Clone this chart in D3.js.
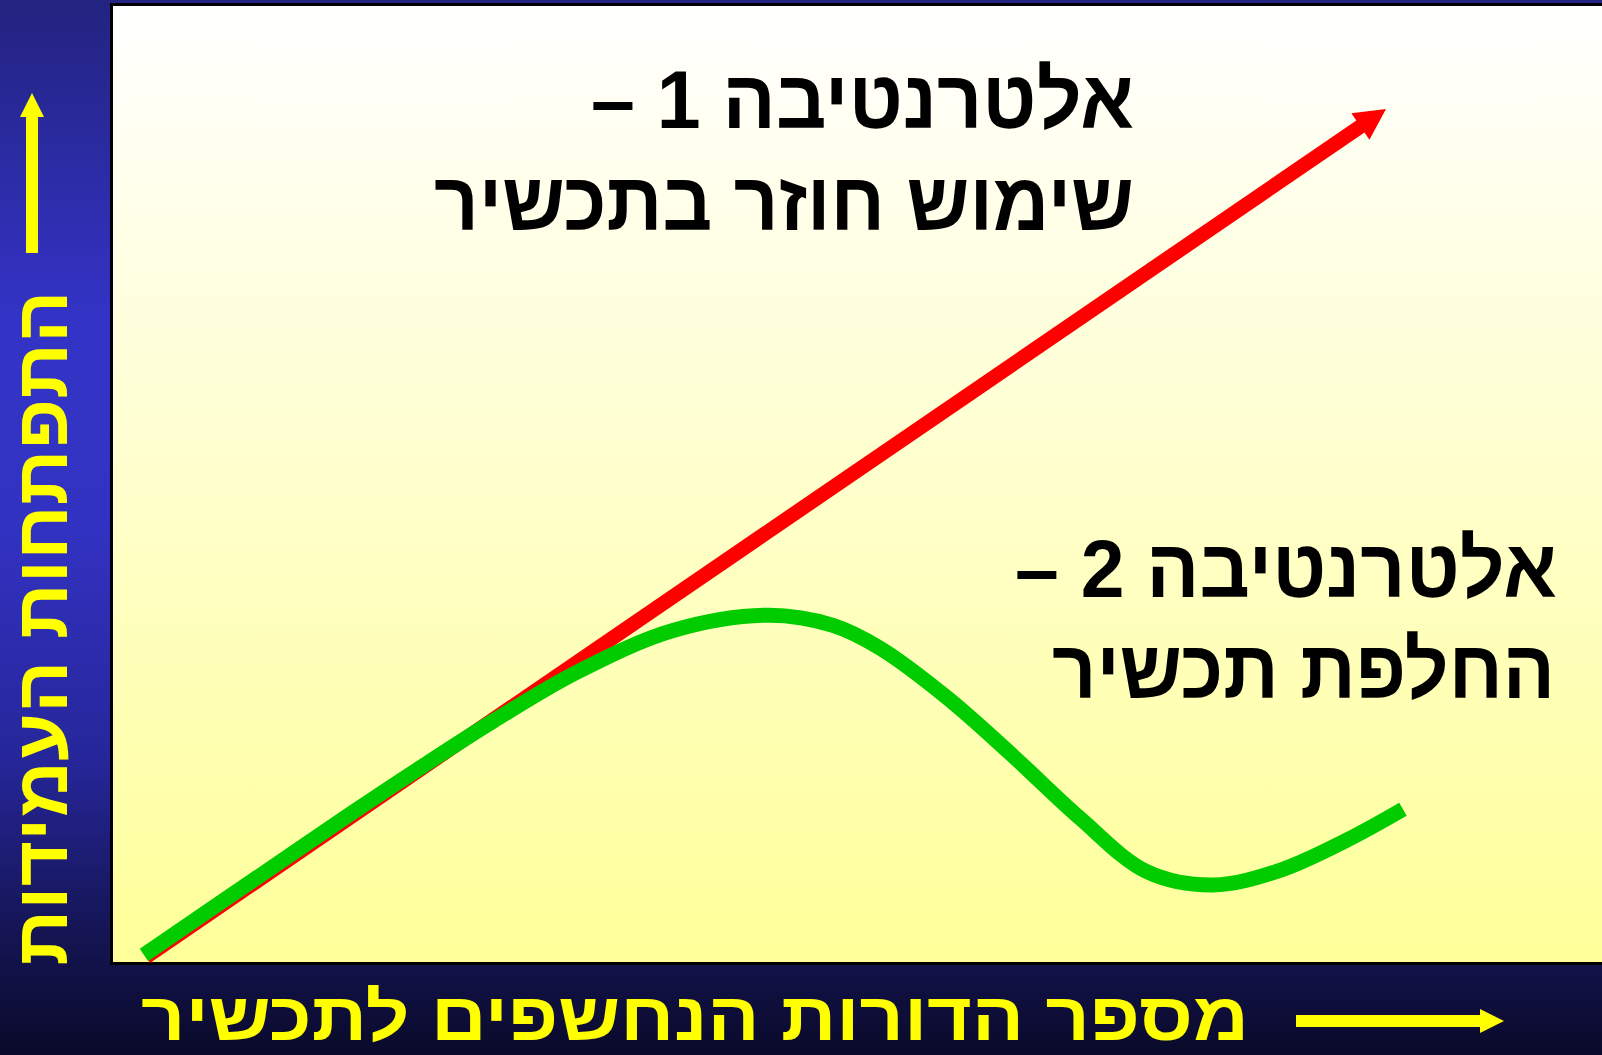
<!DOCTYPE html>
<html><head><meta charset="utf-8">
<script src="https://cdn.jsdelivr.net/npm/d3@7"></script>
<style>html,body{margin:0;padding:0;background:#0a0a2a;overflow:hidden}</style>
</head><body><svg id="c" width="1602" height="1055"></svg>
<script>
// ---- data ----
const reuseGen = [0, 100];           // alternative 1: reuse of product (x)
const reuseRes = [0, 100];           // resistance (y)
const replaceGen = [-0.16, 5.16, 10.81, 16.45, 22.1, 27.98, 34.76, 42.5, 50.24, 55.4, 59.19, 64.6, 69.92, 75.32, 80.73, 86.05, 91.45, 96.85, 101.37];
const replaceRes = [0.24, 5.57, 11.21, 16.83, 22.3, 27.8, 33.6, 38.5, 40.3, 39.1, 36.42, 30.58, 23.71, 16.37, 10.05, 8.49, 10.22, 13.79, 17.42];
const alt1Lines = ["אלטרנטיבה 1 –", "שימוש חוזר בתכשיר"];
const alt2Lines = ["אלטרנטיבה 2 –", "החלפת תכשיר"];
const xTitle = "מספר הדורות הנחשפים לתכשיר";
const yTitle = "התפתחות העמידות";

const svg = d3.select("#c");
const defs = svg.append("defs");
const bg = defs.append("linearGradient").attr("id","bg").attr("x1",0).attr("y1",0).attr("x2",0).attr("y2",1);
[[0,"#232380"],[0.3,"#3333c6"],[0.5,"#3232c2"],[0.72,"#26269a"],[0.88,"#151556"],[1,"#0a0a2a"]]
  .forEach(([o,c])=>bg.append("stop").attr("offset",o).attr("stop-color",c));
const pg = defs.append("linearGradient").attr("id","pg").attr("x1",0).attr("y1",0).attr("x2",0).attr("y2",1);
[[0,"#ffffff"],[1,"#ffff99"]].forEach(([o,c])=>pg.append("stop").attr("offset",o).attr("stop-color",c));

svg.append("rect").attr("width",1602).attr("height",1055).attr("fill","url(#bg)");
svg.append("rect").attr("x",111.5).attr("y",4.5).attr("width",1600).attr("height",959)
  .attr("fill","url(#pg)").attr("stroke","#000").attr("stroke-width",3);

const x = d3.scaleLinear().domain([0,100]).range([146,1386]);
const y = d3.scaleLinear().domain([0,100]).range([957,109]);

// red arrow (alternative 1)
const p0 = [x(reuseGen[0]), y(reuseRes[0])], p1 = [x(reuseGen[1]), y(reuseRes[1])];
const dx = p1[0]-p0[0], dy = p1[1]-p0[1], L = Math.hypot(dx,dy), ux = dx/L, uy = dy/L;
const headLen = 31, headHalf = 16;
const base = [p1[0]-ux*headLen, p1[1]-uy*headLen];
svg.append("line").attr("x1",p0[0]).attr("y1",p0[1]).attr("x2",base[0]+ux*4).attr("y2",base[1]+uy*4)
  .attr("stroke","#ff0000").attr("stroke-width",14.5);
svg.append("polygon").attr("fill","#ff0000")
  .attr("points",[[p1[0],p1[1]],[base[0]-uy*headHalf, base[1]+ux*headHalf],[base[0]+uy*headHalf, base[1]-ux*headHalf]].map(p=>p.join(",")).join(" "));

// green curve (alternative 2)
const line = d3.line().x(d=>x(d[0])).y(d=>y(d[1])).curve(d3.curveCatmullRom.alpha(0.5));
svg.append("path").attr("d", line(replaceGen.map((g,i)=>[g,replaceRes[i]])))
  .attr("fill","none").attr("stroke","#00cc00").attr("stroke-width",15).attr("stroke-linecap","butt");

function txt(s, cx, by, len, size, fill, font){
  return svg.append("text").attr("x",cx).attr("y",by).attr("text-anchor","middle")
    .attr("direction","rtl").style("direction","rtl").style("unicode-bidi","embed")
    .attr("font-family",font||"'Liberation Sans', Arial, sans-serif").attr("font-weight","bold")
    .attr("font-size",size).attr("fill",fill)
    .attr("textLength",len).attr("lengthAdjust","spacingAndGlyphs").text(s);
}
txt(alt1Lines[0], 862.5, 128, 543, 82, "#000");
txt(alt1Lines[1], 784, 230, 700, 82, "#000");
txt(alt2Lines[0], 1286, 597, 542, 82, "#000");
txt(alt2Lines[1], 1303.5, 698, 503, 82, "#000");
txt(xTitle, 695, 1040, 1108, 68, "#ffff00");
txt(yTitle, 0, 0, 675, 74, "#ffff00").attr("transform","translate(67,628) rotate(-90)");

// axis arrows
svg.append("rect").attr("x",26).attr("y",115).attr("width",12).attr("height",138).attr("fill","#ffff00");
svg.append("polygon").attr("points","32,93 20,117 44,117").attr("fill","#ffff00");
svg.append("rect").attr("x",1296).attr("y",1015).attr("width",186).attr("height",12).attr("fill","#ffff00");
svg.append("polygon").attr("points","1504,1021 1480,1009 1480,1033").attr("fill","#ffff00");
</script></body></html>
